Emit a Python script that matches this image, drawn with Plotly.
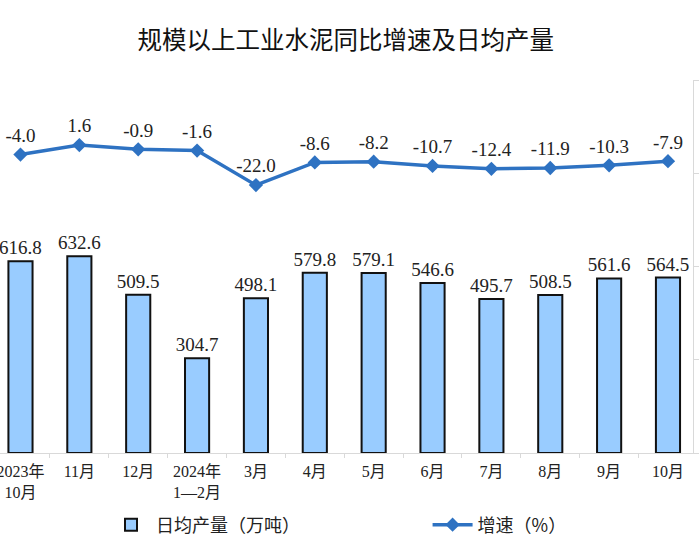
import plotly.graph_objects as go

categories = ["2023年<br>10月", "11月", "12月", "2024年<br>1—2月", "3月", "4月",
              "5月", "6月", "7月", "8月", "9月", "10月"]
daily_output = [616.8, 632.6, 509.5, 304.7, 498.1, 579.8, 579.1, 546.6, 495.7, 508.5, 561.6, 564.5]
growth_rate = [-4.0, 1.6, -0.9, -1.6, -22.0, -8.6, -8.2, -10.7, -12.4, -11.9, -10.3, -7.9]

xpos = list(range(len(categories)))
serif = "Liberation Serif, Times New Roman, Noto Sans CJK SC, serif"
line_color = "#2E72C2"

fig = go.Figure()
fig.add_trace(go.Bar(
    x=xpos, y=daily_output, name="日均产量（万吨）",
    width=0.41,
    marker=dict(color="#99CCFF", line=dict(color="#111111", width=2)),
    text=[f"{v:.1f}" for v in daily_output], textposition="outside",
    constraintext="none",
    textfont=dict(family=serif, size=19, color="#222222"),
    cliponaxis=False, yaxis="y", legend="legend",
))
fig.add_trace(go.Scatter(
    x=xpos, y=growth_rate, name="增速（%）", mode="lines+markers+text",
    line=dict(color=line_color, width=3.5),
    marker=dict(symbol="diamond", size=11, color=line_color),
    text=[f"{v:.1f}" for v in growth_rate], textposition="top center",
    textfont=dict(family=serif, size=19, color="#222222"),
    cliponaxis=False, yaxis="y2", legend="legend2",
))

fig.update_layout(
    width=700, height=550,
    margin=dict(l=0, r=7, t=80, b=97, autoexpand=False),
    paper_bgcolor="white", plot_bgcolor="white",
    title=dict(text="规模以上工业水泥同比增速及日均产量",
               font=dict(family="Noto Sans CJK SC", size=24.5, color="#111111"),
               x=0.494, xanchor="center", y=0.926, yanchor="middle"),
    xaxis=dict(range=[-0.348, 11.425], tickmode="array", tickvals=xpos, ticktext=categories,
               ticks="", showgrid=False, zeroline=False,
               showline=True, linecolor="#D9D9D9", linewidth=1,
               tickfont=dict(family=serif, size=16, color="#222222"),
               ticklabeloverflow="allow", ticklabelstandoff=4,
               minor=dict(ticks="outside", ticklen=4, tickcolor="#D9D9D9",
                          tick0=0.5, dtick=1, showgrid=False),
               automargin=False),
    yaxis=dict(range=[0, 1200], dtick=300, side="right", showgrid=False, zeroline=False,
               showline=True, linecolor="#D9D9D9", linewidth=1,
               ticks="outside", ticklen=5, tickcolor="#D9D9D9",
               showticklabels=False, automargin=False),
    yaxis2=dict(range=[-180, 40], overlaying="y", side="left", showgrid=False,
                zeroline=False, showline=False, showticklabels=False, automargin=False),
    legend=dict(x=0.153, y=-0.193, xanchor="left", yanchor="middle", orientation="h",
                font=dict(family="Noto Sans CJK SC", size=18, color="#222222"),
                bgcolor="rgba(0,0,0,0)", itemwidth=40),
    legend2=dict(x=0.617, y=-0.193, xanchor="left", yanchor="middle", orientation="h",
                 font=dict(family="Noto Sans CJK SC", size=18, color="#222222"),
                 bgcolor="rgba(0,0,0,0)", itemwidth=40),
    showlegend=True,
)

fig.write_html("out.html", config={"displayModeBar": False},
               post_script="document.body.style.margin='0';")
